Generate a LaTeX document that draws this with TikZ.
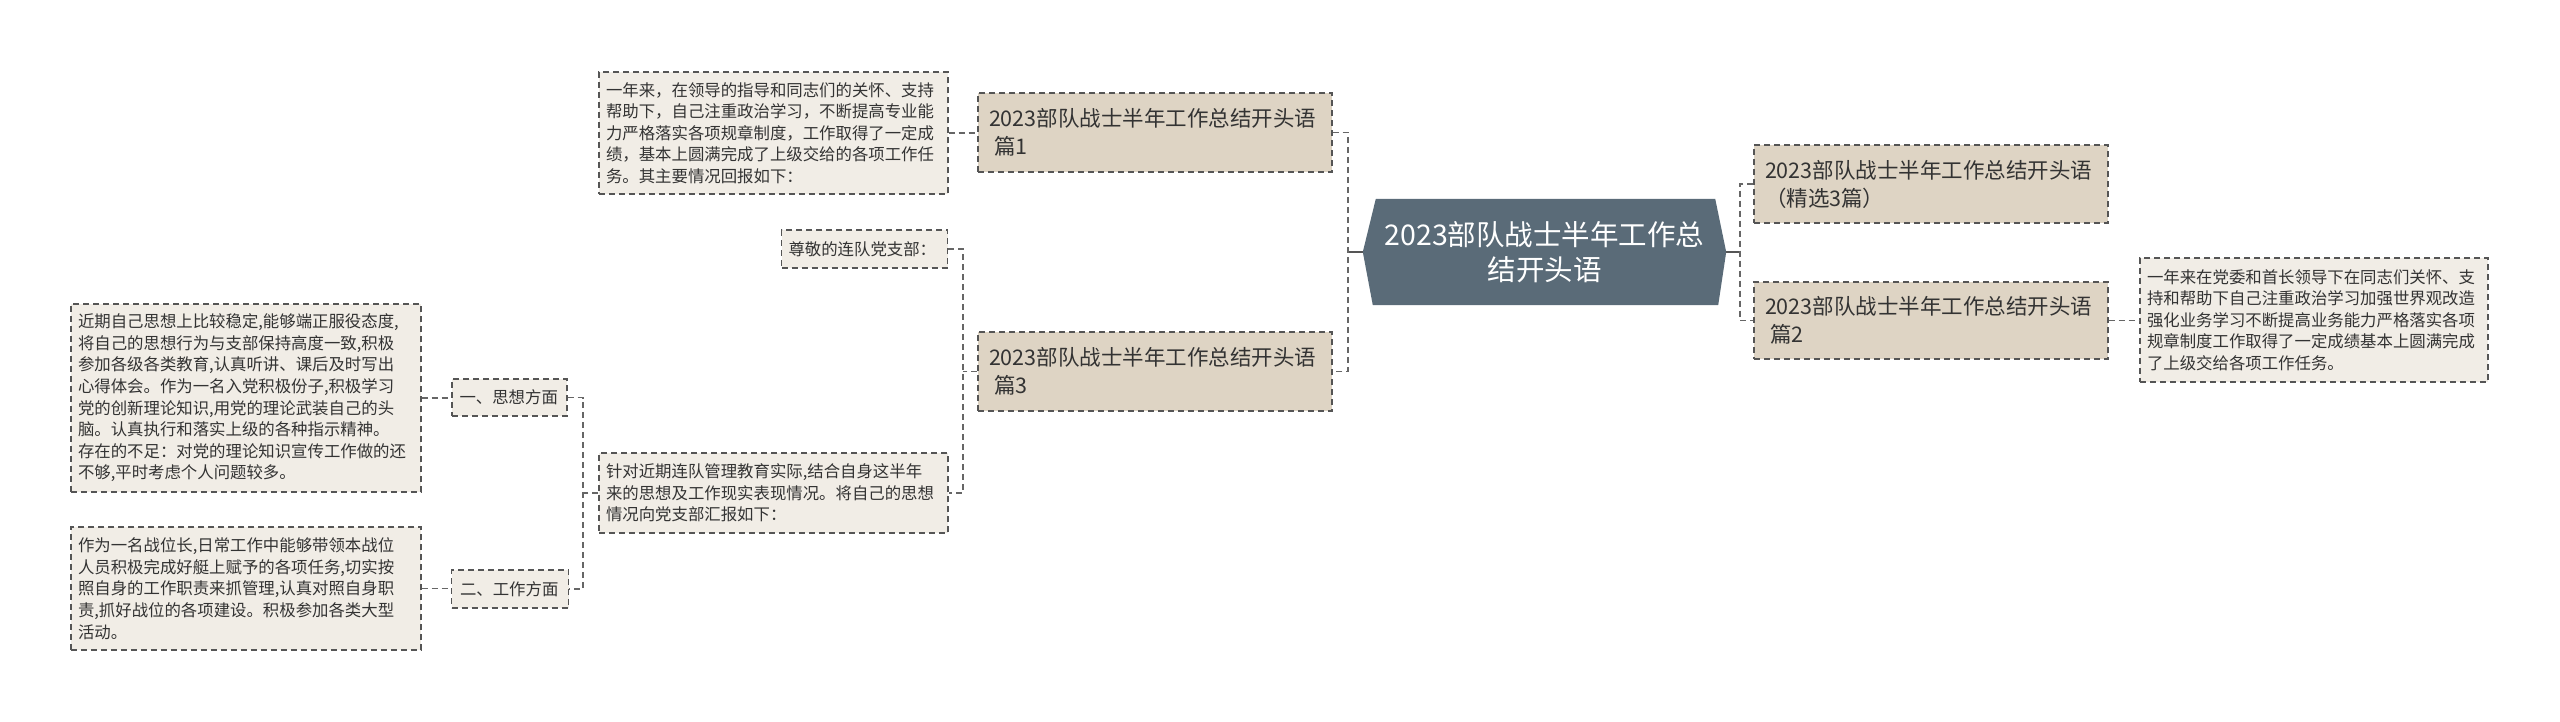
\documentclass[tikz,border=0pt]{standalone}
\usepackage{fontspec}
\setmainfont{Noto Sans CJK SC}
\usetikzlibrary{backgrounds}
\definecolor{rootc}{HTML}{5A6B78}
\definecolor{lvc}{HTML}{DED4C4}
\definecolor{smc}{HTML}{F1EDE6}
\definecolor{bdc}{HTML}{555555}
\definecolor{txc}{HTML}{333333}
\definecolor{cnc}{HTML}{666666}
\begin{document}
\begin{tikzpicture}[x=1pt,y=-1pt,
  box/.style={draw=bdc, line width=1.4pt, dash pattern=on 6pt off 4pt, text=txc, align=left, inner ysep=0pt, inner xsep=7pt},
  small/.style={box, fill=smc, font=\fontsize{16.4}{21.6}\selectfont},
  lvl/.style={box, fill=lvc, font=\fontsize{21.5}{28}\selectfont, inner xsep=11pt},
  conn/.style={draw=cnc, line width=1.4pt, dash pattern=on 6pt off 4pt},
  stub/.style={draw=bdc, line width=1.6pt}
]
\useasboundingbox (0,0) rectangle (2560,722);

% root
\node[font=\fontsize{28.5}{35}\selectfont, text=white, align=center, minimum width=363pt, minimum height=106pt, inner sep=0pt] (root) at (1544.5,252) {2023部队战士半年工作总\\结开头语};
\begin{scope}[on background layer]
\fill[rootc] (root.west) -- ([xshift=13pt]root.north west) -- ([xshift=-11pt]root.north east) -- (root.east) -- ([xshift=-8pt]root.south east) -- ([xshift=10pt]root.south west) -- cycle;
\end{scope}

% level 1
\node[lvl, text width=332pt, minimum height=79pt] (p1) at (1155,132.5) {2023部队战士半年工作总结开头语\\\hspace*{5pt}篇1};
\node[lvl, text width=332pt, minimum height=79pt] (p3) at (1155,371.5) {2023部队战士半年工作总结开头语\\\hspace*{5pt}篇3};
\node[lvl, text width=332pt, minimum height=78pt] (p0) at (1931,184) {2023部队战士半年工作总结开头语\\（精选3篇）};
\node[lvl, text width=332pt, minimum height=77pt] (p2) at (1931,320.5) {2023部队战士半年工作总结开头语\\\hspace*{5pt}篇2};

% small boxes
\node[small, text width=335pt, minimum height=122pt] (a) at (773.5,133) {一年来，在领导的指导和同志们的关怀、支持\\帮助下，自己注重政治学习，不断提高专业能\\力严格落实各项规章制度，工作取得了一定成\\绩，基本上圆满完成了上级交给的各项工作任\\务。其主要情况回报如下：};
\node[small, text width=334pt, minimum height=124pt] (r) at (2314,320) {一年来在党委和首长领导下在同志们关怀、支\\持和帮助下自己注重政治学习加强世界观改造\\强化业务学习不断提高业务能力严格落实各项\\规章制度工作取得了一定成绩基本上圆满完成\\了上级交给各项工作任务。};
\node[small, text width=152pt, minimum height=38pt] (zun) at (864.5,249) {尊敬的连队党支部：};
\node[small, text width=335pt, minimum height=80pt] (zhen) at (773.5,493) {针对近期连队管理教育实际,结合自身这半年\\来的思想及工作现实表现情况。将自己的思想\\情况向党支部汇报如下：};
\node[small, text width=100pt, inner xsep=7.5pt, minimum height=37pt] (six) at (509.5,397.5) {一、思想方面};
\node[small, text width=100pt, inner xsep=8.5pt, minimum height=38pt] (gong) at (510,589) {二、工作方面};
\node[small, text width=336pt, minimum height=188pt] (jin) at (246,398) {近期自己思想上比较稳定,能够端正服役态度,\\将自己的思想行为与支部保持高度一致,积极\\参加各级各类教育,认真听讲、课后及时写出\\心得体会。作为一名入党积极份子,积极学习\\党的创新理论知识,用党的理论武装自己的头\\脑。认真执行和落实上级的各种指示精神。\\存在的不足：对党的理论知识宣传工作做的还\\不够,平时考虑个人问题较多。};
\node[small, text width=336pt, minimum height=123pt] (zuo) at (246,588.5) {作为一名战位长,日常工作中能够带领本战位\\人员积极完成好艇上赋予的各项任务,切实按\\照自身的工作职责来抓管理,认真对照自身职\\责,抓好战位的各项建设。积极参加各类大型\\活动。};

% connectors
\coordinate (Lc) at (1348,252);
\coordinate (Rc) at (1740,252);
\coordinate (Mc) at (963,371.5);
\coordinate (Nc) at (583,493);
\draw[stub] (root.west) -- (Lc);
\draw[stub] (root.east) -- (Rc);
\draw[conn] (p1.east) -| (Lc) |- (p3.east);
\draw[conn] (p0.west) -| (Rc) |- (p2.west);
\draw[conn] (p2.east) -- (r.west |- p2.east);
\draw[conn] (a.east) -- (p1.west |- a.east);
\draw[conn] (p3.west) -- (Mc);
\draw[conn] (zun.east) -| (Mc) |- (zhen.east);
\draw[conn] (zhen.west) -- (Nc);
\draw[conn] (six.east) -| (Nc) |- (gong.east);
\draw[conn] (jin.east) -- (six.west |- jin.east);
\draw[conn] (zuo.east) -- (gong.west |- zuo.east);
\end{tikzpicture}
\end{document}
